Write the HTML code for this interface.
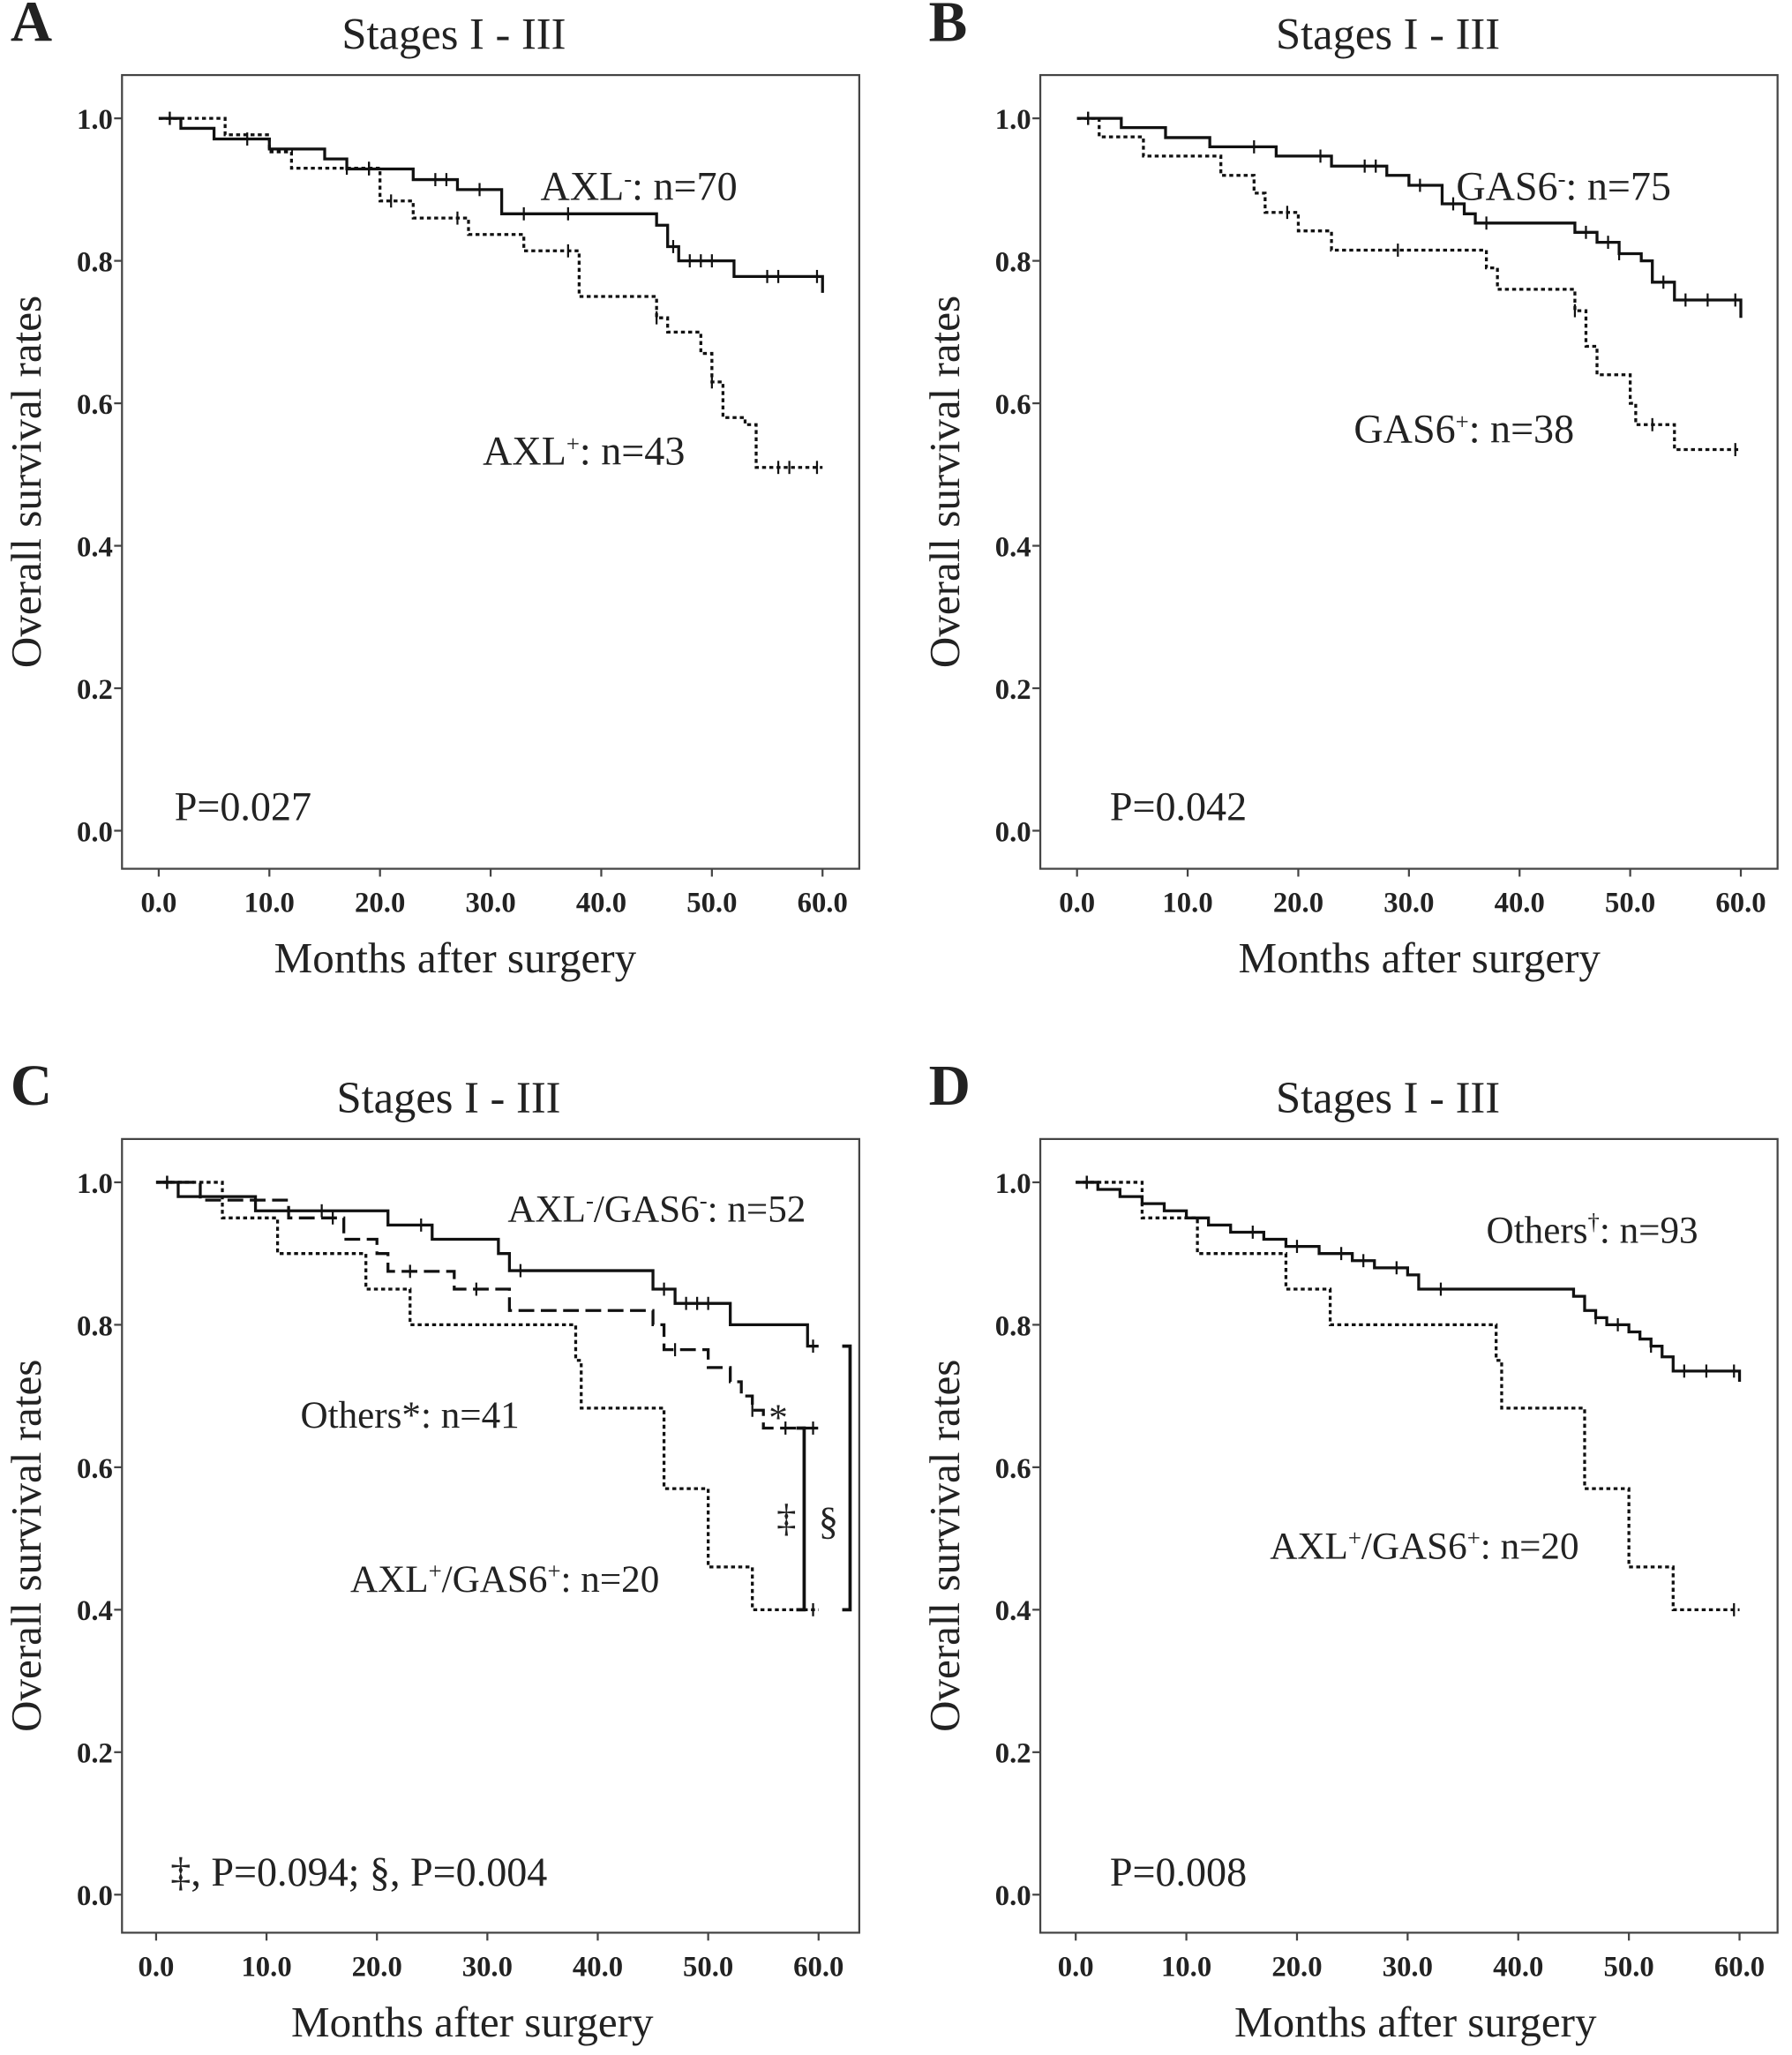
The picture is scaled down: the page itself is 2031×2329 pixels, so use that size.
<!DOCTYPE html>
<html><head><meta charset="utf-8"><style>
html,body{margin:0;padding:0;background:#fff}
svg{display:block}
text{font-family:"Liberation Serif",serif;fill:#222}
</style></head><body>
<svg id="fig" width="2031" height="2329" viewBox="0 0 1366 1566" xmlns="http://www.w3.org/2000/svg"></svg>
<script>
// ---- data (time in months, survival rate) ----
const xTicks=[0,10,20,30,40,50,60];
const xTickLabels=["0.0","10.0","20.0","30.0","40.0","50.0","60.0"];
const yTicks=[0,0.2,0.4,0.6,0.8,1.0];
const yTickLabels=["0.0","0.2","0.4","0.6","0.8","1.0"];

const aNegT=[0,2,5,10,15,17,23,27,31,45,46,47,52,60];
const aNegS=[1,0.986,0.971,0.957,0.943,0.929,0.914,0.9,0.866,0.85,0.82,0.80,0.778,0.755];
const aNegC=[1,8,19,25,26,29,33,37,46.5,48,49,50,55,56,59.5];
const aPosT=[0,6,10,12,20,23,28,33,38,45,46,49,50,51,53,54,60];
const aPosS=[1,0.977,0.953,0.93,0.884,0.86,0.837,0.814,0.75,0.72,0.70,0.67,0.63,0.58,0.57,0.51,0.51];
const aPosC=[1,17,19,21,27,37,45,50,56,57,59.5];

const bNegT=[0,4,8,12,18,23,28,30,33,35,36,45,47,49,51,52,54,60];
const bNegS=[1,0.987,0.973,0.96,0.947,0.933,0.92,0.906,0.88,0.866,0.853,0.84,0.826,0.81,0.80,0.77,0.745,0.72];
const bNegC=[1,16,22,26,27,31,34,37,46,48,49,53,55,57,59.5];
const bPosT=[0,2,6,13,16,17,20,23,37,38,45,46,47,50,50.5,54,60];
const bPosS=[1,0.974,0.947,0.92,0.895,0.868,0.842,0.815,0.79,0.76,0.73,0.68,0.64,0.60,0.57,0.535,0.535];
const bPosC=[1,19,29,45,52,59.5];

const cNegT=[0,2,9,21,25,31,32,45,47,52,59,60];
const cNegS=[1,0.98,0.96,0.94,0.92,0.90,0.876,0.85,0.83,0.80,0.77,0.77];
const cNegC=[1,15,24,33,46,48,49,50,59.5];
const cOthT=[0,4,12,17,20,21,27,32,45,46,50,52,53,54,55,60];
const cOthS=[1,0.975,0.95,0.92,0.9,0.875,0.85,0.82,0.8,0.765,0.74,0.72,0.70,0.68,0.655,0.655];
const cOthC=[1,16,23,29,47,54,57,59.5];
const cPosT=[0,6,11,19,23,38,38.5,46,50,54,60];
const cPosS=[1,0.95,0.90,0.85,0.80,0.75,0.683,0.57,0.46,0.40,0.40];
const cPosC=[1,59.5];

const dOthT=[0,2,4,6,8,10,12,14,17,19,22,25,27,30,31,45,46,47,48,50,51,52,53,54,60];
const dOthS=[1,0.99,0.98,0.97,0.96,0.95,0.94,0.93,0.92,0.91,0.90,0.89,0.88,0.87,0.85,0.84,0.82,0.81,0.80,0.79,0.78,0.77,0.755,0.735,0.72];
const dOthC=[1,16,20,24,26,29,33,47,49,52,55,57,59.5];
const dPosT=cPosT, dPosS=cPosS, dPosC=cPosC;

const svg=document.getElementById('fig');
const NS='http://www.w3.org/2000/svg';
function el(tag,attrs,parent){const e=document.createElementNS(NS,tag);for(const k in attrs)e.setAttribute(k,attrs[k]);(parent||svg).appendChild(e);return e;}

function panel(p){
  const g=el('g',{});
  
  
  const X=t=>p.x0+(p.x1-p.x0)*t/60, Y=s=>p.y0+(p.y1-p.y0)*(1-s);
  const box=el('rect',{x:p.bx,y:p.by,width:562,height:605,fill:'none',stroke:'#444','stroke-width':1.5},g);
  
  const L=el('text',{x:p.bx-85,y:p.by-26,'font-size':44,'font-weight':'bold',fill:'#000'},g);L.textContent=p.id;
  
  const T=el('text',{x:p.bx+253+(p.tdx||0),y:p.by-20,'font-size':34,'text-anchor':'middle'},g);T.textContent='Stages I - III';
  
  yTicks.forEach((v,i)=>{el('line',{x1:p.bx-6,x2:p.bx,y1:Y(v),y2:Y(v),stroke:'#444','stroke-width':1.5},g);
    const t=el('text',{x:p.bx-7,y:Y(v)+8,'font-size':22,'font-weight':'bold','text-anchor':'end'},g);t.textContent=yTickLabels[i];
    });
  xTicks.forEach((v,i)=>{el('line',{x1:X(v),x2:X(v),y1:p.by+605,y2:p.by+611,stroke:'#444','stroke-width':1.5},g);
    const t=el('text',{x:X(v),y:p.by+638,'font-size':22,'font-weight':'bold','text-anchor':'middle'},g);t.textContent=xTickLabels[i];
    });
  const xt=el('text',{x:p.bx+254+(p.xdx||0),y:p.by+684,'font-size':33,'text-anchor':'middle'},g);xt.textContent='Months after surgery';
  
  const yt=el('text',{x:0,y:0,'font-size':33,'text-anchor':'middle',transform:`translate(${p.bx-62},${p.by+310}) rotate(-90)`},g);yt.textContent='Overall survival rates';
  
  p.series.forEach(s=>{
    let d=`M${X(s.t[0])},${Y(s.s[0])}`;
    for(let i=1;i<s.t.length;i++){d+=` H${X(s.t[i])} V${Y(s.s[i])}`;}
    const path=el('path',{d:d,fill:'none',stroke:'#111','stroke-width':2.2,'stroke-dasharray':s.dash},g);
    
    s.c.forEach(ct=>{let v=s.s[0];for(let i=0;i<s.t.length;i++){if(s.t[i]<=ct)v=s.s[i];}
      const m=el('line',{x1:X(ct),x2:X(ct),y1:Y(v)-5,y2:Y(v)+5,stroke:'#111','stroke-width':1.5},g);
      });
  });
  p.labels.forEach(l=>{const t=el('text',{x:l.x,y:l.y,'font-size':l.fs||31},g);t.innerHTML=l.h;
    });
  return {X,Y,g};
}
const SUP='baseline-shift="super" font-size="18"';
const solid='none',dot='3 2.5',dash='12 5';
panel({id:'A',bx:93,by:57,x0:121,x1:627,y0:90,y1:633,series:[
  {name:'axl-negative-curve',t:aNegT,s:aNegS,c:aNegC,dash:solid},
  {name:'axl-positive-curve',t:aPosT,s:aPosS,c:aPosC,dash:dot}],
  labels:[{name:'axl-negative-label',x:412,y:152,h:`AXL<tspan ${SUP}>-</tspan>: n=70`},
   {name:'axl-positive-label',x:368,y:354,h:`AXL<tspan ${SUP}>+</tspan>: n=43`},
   {name:'p-value',x:133,y:625,h:'P=0.027'}]});
panel({id:'B',bx:793,by:57,x0:821,x1:1327,y0:90,y1:633,tdx:12,xdx:35,series:[
  {name:'gas6-negative-curve',t:bNegT,s:bNegS,c:bNegC,dash:solid},
  {name:'gas6-positive-curve',t:bPosT,s:bPosS,c:bPosC,dash:dot}],
  labels:[{name:'gas6-negative-label',x:1110,y:152,h:`GAS6<tspan ${SUP}>-</tspan>: n=75`},
   {name:'gas6-positive-label',x:1032,y:337,h:`GAS6<tspan ${SUP}>+</tspan>: n=38`},
   {name:'p-value',x:846,y:625,h:'P=0.042'}]});
const c=panel({id:'C',bx:93,by:868,x0:119,x1:624,y0:901,y1:1444,tdx:-4,xdx:13,series:[
  {name:'axl-neg-gas6-neg-curve',t:cNegT,s:cNegS,c:cNegC,dash:solid},
  {name:'others-curve',t:cOthT,s:cOthS,c:cOthC,dash:dash},
  {name:'axl-pos-gas6-pos-curve',t:cPosT,s:cPosS,c:cPosC,dash:dot}],
  labels:[{name:'axl-neg-gas6-neg-label',x:387,y:931,fs:29,h:`AXL<tspan ${SUP}>-</tspan>/GAS6<tspan ${SUP}>-</tspan>: n=52`},
   {name:'others-label',x:229,y:1088,fs:29,h:`Others*: n=41`},
   {name:'axl-pos-gas6-pos-label',x:267,y:1213,fs:29,h:`AXL<tspan ${SUP}>+</tspan>/GAS6<tspan ${SUP}>+</tspan>: n=20`},
   {name:'others-star',x:586,y:1090,fs:29,h:'*'},
   {name:'p-values',x:130,y:1437,h:'‡, P=0.094;  §, P=0.004'},
   {name:'dagger-symbol',x:592,y:1167,fs:30,h:'‡'},
   {name:'section-symbol',x:624,y:1169,fs:30,h:'§'}]});
function bracket(x,s1,s2,name){const p=el('path',{d:`M${x-6},${c.Y(s1)} H${x} V${c.Y(s2)} H${x-6}`,fill:'none',stroke:'#111','stroke-width':2.5},c.g);
  }
bracket(613,0.655,0.4,'bracket-dagger');
bracket(648,0.77,0.4,'bracket-section');
panel({id:'D',bx:793,by:868,x0:820,x1:1326,y0:901,y1:1444,tdx:12,xdx:32,series:[
  {name:'others-curve',t:dOthT,s:dOthS,c:dOthC,dash:solid},
  {name:'axl-pos-gas6-pos-curve',t:dPosT,s:dPosS,c:dPosC,dash:dot}],
  labels:[{name:'others-label',x:1133,y:947,fs:29,h:`Others<tspan ${SUP}>†</tspan>: n=93`},
   {name:'axl-pos-gas6-pos-label',x:968,y:1188,fs:29,h:`AXL<tspan ${SUP}>+</tspan>/GAS6<tspan ${SUP}>+</tspan>: n=20`},
   {name:'p-value',x:846,y:1437,h:'P=0.008'}]});
</script>
</body></html>
